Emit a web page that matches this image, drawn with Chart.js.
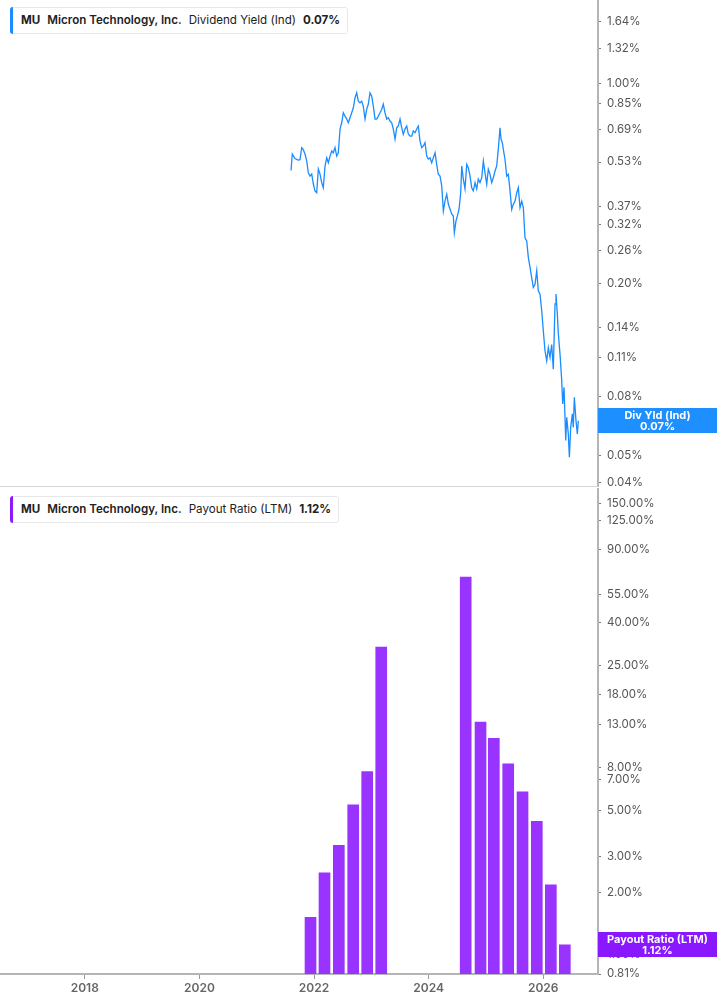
<!DOCTYPE html>
<html>
<head>
<meta charset="utf-8">
<script src="https://cdn.jsdelivr.net/npm/chart.js@4.4.1/dist/chart.umd.min.js"></script>
<style>
  html, body { margin: 0; padding: 0; background: #fff; }
  body { width: 717px; height: 1005px; position: relative; overflow: hidden; font-family: Inter, "Noto Sans", sans-serif; }
  canvas { position: absolute; left: 0; }
  #topChart { top: 0; }
  #botChart { top: 488px; }
  .legend {
    position: absolute; left: 10px; height: 25px; line-height: 25px;
    padding: 0 7px 0 10px; background: #fff; border: 1px solid #e8e8e8;
    border-radius: 3px; font-size: 11.6px; color: #222; white-space: nowrap; z-index: 2;
  }
  .legend::before {
    content: ""; position: absolute; left: -1px; top: -1px; bottom: -1px; width: 3px;
    background: var(--c); border-radius: 3px 0 0 3px;
  }
  .legend b { font-weight: 700; }
  .legend .co { font-weight: 600; margin-left: 7px; }
  .legend .me { font-weight: 400; margin-left: 7px; }
  .legend .va { font-weight: 700; margin-left: 7px; }
</style>
</head>
<body>
<div class="legend" style="top:7px; --c:#1a8cff;"><b>MU</b><span class="co">Micron Technology, Inc.</span><span class="me">Dividend Yield (Ind)</span><span class="va">0.07%</span></div>
<div class="legend" style="top:496px; --c:#8c1aff;"><b>MU</b><span class="co">Micron Technology, Inc.</span><span class="me">Payout Ratio (LTM)</span><span class="va">1.12%</span></div>
<canvas id="topChart" width="717" height="487"></canvas>
<canvas id="botChart" width="717" height="517"></canvas>
<script>
// ================= DATA =================
const yieldDates = [
  2021.599, 2021.621, 2021.668, 2021.721, 2021.756, 2021.785, 2021.808, 2021.843, 2021.873, 2021.901,
  2021.930, 2021.960, 2021.988, 2022.017, 2022.047, 2022.075, 2022.105, 2022.134, 2022.162, 2022.192,
  2022.222, 2022.250, 2022.279, 2022.309, 2022.337, 2022.366, 2022.396, 2022.424, 2022.454, 2022.483,
  2022.511, 2022.541, 2022.571, 2022.599, 2022.628, 2022.658, 2022.686, 2022.716, 2022.745, 2022.773,
  2022.803, 2022.832, 2022.860, 2022.890, 2022.920, 2022.948, 2022.977, 2023.007, 2023.035, 2023.065,
  2023.094, 2023.122, 2023.152, 2023.182, 2023.209, 2023.239, 2023.269, 2023.297, 2023.326, 2023.356,
  2023.384, 2023.414, 2023.443, 2023.471, 2023.501, 2023.531, 2023.558, 2023.588, 2023.618, 2023.646,
  2023.675, 2023.705, 2023.733, 2023.763, 2023.792, 2023.820, 2023.850, 2023.880, 2023.908, 2023.937,
  2023.967, 2023.995, 2024.024, 2024.054, 2024.082, 2024.112, 2024.141, 2024.169, 2024.199, 2024.229,
  2024.257, 2024.286, 2024.316, 2024.344, 2024.373, 2024.403, 2024.431, 2024.449, 2024.478, 2024.501,
  2024.531, 2024.560, 2024.578, 2024.606, 2024.635, 2024.665, 2024.693, 2024.723, 2024.752, 2024.780,
  2024.810, 2024.839, 2024.867, 2024.897, 2024.927, 2024.955, 2024.984, 2025.014, 2025.042, 2025.072,
  2025.101, 2025.129, 2025.159, 2025.188, 2025.216, 2025.246, 2025.264, 2025.286, 2025.304, 2025.333,
  2025.363, 2025.391, 2025.421, 2025.450, 2025.478, 2025.508, 2025.538, 2025.565, 2025.595, 2025.625,
  2025.653, 2025.682, 2025.712, 2025.740, 2025.770, 2025.799, 2025.827, 2025.857, 2025.887, 2025.914,
  2025.944, 2025.974, 2026.002, 2026.031, 2026.061, 2026.089, 2026.119, 2026.148, 2026.176, 2026.206,
  2026.223, 2026.246, 2026.264, 2026.293, 2026.323, 2026.340, 2026.363, 2026.393, 2026.410, 2026.438,
  2026.456, 2026.480, 2026.508, 2026.525, 2026.543, 2026.572, 2026.595, 2026.613
];
const yieldValues = [
  0.495, 0.565, 0.545, 0.538, 0.540, 0.595, 0.588, 0.565, 0.534, 0.486,
  0.473, 0.481, 0.444, 0.420, 0.414, 0.501, 0.481, 0.449, 0.431, 0.513,
  0.548, 0.527, 0.556, 0.579, 0.571, 0.595, 0.556, 0.571, 0.691, 0.727,
  0.788, 0.767, 0.749, 0.727, 0.757, 0.788, 0.820, 0.889, 0.925, 0.865,
  0.853, 0.865, 0.831, 0.749, 0.811, 0.845, 0.925, 0.901, 0.831, 0.749,
  0.749, 0.767, 0.788, 0.811, 0.845, 0.788, 0.749, 0.757, 0.737, 0.727,
  0.691, 0.637, 0.698, 0.708, 0.749, 0.698, 0.662, 0.691, 0.708, 0.664,
  0.653, 0.653, 0.680, 0.671, 0.691, 0.708, 0.627, 0.595, 0.603, 0.619,
  0.556, 0.543, 0.548, 0.527, 0.548, 0.571, 0.520, 0.480, 0.473, 0.437,
  0.357, 0.387, 0.409, 0.378, 0.363, 0.349, 0.343, 0.300, 0.330, 0.343,
  0.363, 0.414, 0.513, 0.462, 0.427, 0.520, 0.506, 0.473, 0.431, 0.420,
  0.449, 0.427, 0.462, 0.449, 0.467, 0.534, 0.486, 0.443, 0.500, 0.480,
  0.449, 0.467, 0.493, 0.513, 0.587, 0.698, 0.636, 0.619, 0.587, 0.542,
  0.473, 0.480, 0.420, 0.362, 0.377, 0.387, 0.414, 0.431, 0.367, 0.387,
  0.367, 0.288, 0.281, 0.246, 0.227, 0.209, 0.193, 0.198, 0.221, 0.188,
  0.183, 0.160, 0.136, 0.116, 0.107, 0.119, 0.110, 0.122, 0.100, 0.169,
  0.183, 0.156, 0.133, 0.113, 0.0912, 0.0756, 0.0864, 0.0563, 0.0679, 0.0594,
  0.0492, 0.0626, 0.0698, 0.0626, 0.0797, 0.0661, 0.0594, 0.066
];

const payoutDates = [
  2021.939, 2022.183, 2022.433, 2022.684, 2022.928, 2023.173,
  2024.647, 2024.906, 2025.138, 2025.389, 2025.639, 2025.888, 2026.133, 2026.377
];
const payoutValues = [
  1.52, 2.49, 3.38, 5.31, 7.68, 30.6,
  66.5, 13.3, 11.1, 8.37, 6.13, 4.41, 2.18, 1.12
];

const yieldTicks = [1.64, 1.32, 1.00, 0.85, 0.69, 0.53, 0.37, 0.32, 0.26, 0.20, 0.14, 0.11, 0.08, 0.05, 0.04];
const payoutTicks = [150, 125, 90, 55, 40, 25, 18, 13, 8, 7, 5, 3, 2, 1, 0.81];
const yearTicks = [2018, 2020, 2022, 2024, 2026];

// ================= SETTINGS =================
const X_MIN = 2016.52;
const X_MAX = 2026.956;
const AXIS_W = 119;
const FONT = "Inter, 'Noto Sans', sans-serif";
const BLUE = "#1a8cff";
const PURPLE = "#9933ff";

Chart.defaults.font.family = FONT;
Chart.defaults.animation = false;

// kotak nilai terakhir di sumbu kanan + garis bawah panel
const sidePlugin = {
  id: "sideBox",
  afterDraw(chart, args, opts) {
    const { ctx, chartArea, scales } = chart;
    if (opts.bottomLine) {
      ctx.save();
      ctx.strokeStyle = "#d6d6d6";
      ctx.lineWidth = 1;
      ctx.beginPath();
      ctx.moveTo(0, chartArea.bottom - 0.5);
      ctx.lineTo(chartArea.right, chartArea.bottom - 0.5);
      ctx.stroke();
      ctx.restore();
    }
    const y = scales.y.getPixelForValue(opts.value);
    const left = chartArea.right;
    const w = chart.width - left;
    ctx.save();
    ctx.fillStyle = opts.color;
    ctx.fillRect(left, Math.round(y - 12.5), w, 25);
    ctx.fillStyle = "#fff";
    ctx.font = "700 11px " + FONT;
    ctx.textAlign = "center";
    ctx.textBaseline = "middle";
    ctx.fillText(opts.label, left + w / 2, y - 5.5);
    ctx.fillText(opts.text, left + w / 2, y + 6);
    ctx.restore();
  },
};

function yAxis(min, max, ticks, fmt) {
  return {
    type: "logarithmic",
    position: "right",
    min: min,
    max: max,
    afterBuildTicks: (scale) => {
      scale.ticks = ticks.map((v) => ({ value: v }));
    },
    afterFit: (scale) => {
      scale.width = AXIS_W;
      scale.paddingTop = 0;
      scale.paddingBottom = 0;
    },
    border: { display: true, color: "#b5b5b5", width: 2 },
    grid: { drawOnChartArea: false, drawTicks: true, tickLength: 3, tickColor: "#777" },
    ticks: {
      autoSkip: false,
      padding: 6,
      color: "#555",
      font: { size: 11.5 },
      callback: fmt,
    },
  };
}

// ================= GRAFIK ATAS: DIVIDEND YIELD =================
const lastYield = yieldValues[yieldValues.length - 1];
new Chart(document.getElementById("topChart"), {
  type: "line",
  data: {
    datasets: [
      {
        label: "Dividend Yield (Ind)",
        data: yieldDates.map((d, i) => ({ x: d, y: yieldValues[i] })),
        borderColor: BLUE,
        borderWidth: 1.3,
        pointRadius: 0,
        tension: 0,
      },
    ],
  },
  options: {
    responsive: false,
    layout: { padding: 0 },
    plugins: {
      legend: { display: false },
      tooltip: { enabled: false },
      sideBox: {
        value: lastYield,
        color: "#1e8fff",
        label: "Div Yld (Ind)",
        text: lastYield.toFixed(2) + "%",
        bottomLine: true,
      },
    },
    scales: {
      x: { type: "linear", min: X_MIN, max: X_MAX, offset: false, display: false },
      y: yAxis(0.03873, 1.953, yieldTicks, (v) => v.toFixed(2) + "%"),
    },
  },
  plugins: [sidePlugin],
});

// ================= GRAFIK BAWAH: PAYOUT RATIO =================
const lastPayout = payoutValues[payoutValues.length - 1];
new Chart(document.getElementById("botChart"), {
  type: "bar",
  data: {
    datasets: [
      {
        label: "Payout Ratio (LTM)",
        data: payoutDates.map((d, i) => ({ x: d, y: payoutValues[i] })),
        backgroundColor: PURPLE,
        barThickness: 11,
      },
    ],
  },
  options: {
    responsive: false,
    layout: { padding: 0 },
    plugins: {
      legend: { display: false },
      tooltip: { enabled: false },
      sideBox: {
        value: lastPayout,
        color: "#8a18ff",
        label: "Payout Ratio (LTM)",
        text: lastPayout.toFixed(2) + "%",
        bottomLine: false,
      },
    },
    scales: {
      x: {
        type: "linear",
        min: X_MIN,
        max: X_MAX,
        offset: false,
        afterBuildTicks: (scale) => {
          scale.ticks = yearTicks.map((v) => ({ value: v }));
        },
        afterFit: (scale) => {
          scale.height = 31;
        },
        border: { display: true, color: "#b5b5b5", width: 2 },
        grid: { drawOnChartArea: false, drawTicks: true, tickLength: 5, tickColor: "#999", offset: false },
        ticks: {
          autoSkip: false,
          maxRotation: 0,
          padding: 2,
          color: "#666",
          font: { size: 12, weight: "600" },
          callback: (v) => String(v),
        },
      },
      y: yAxis(0.81, 179.1, payoutTicks, (v) => v.toFixed(2) + "%"),
    },
  },
  plugins: [sidePlugin],
});
</script>
</body>
</html>
